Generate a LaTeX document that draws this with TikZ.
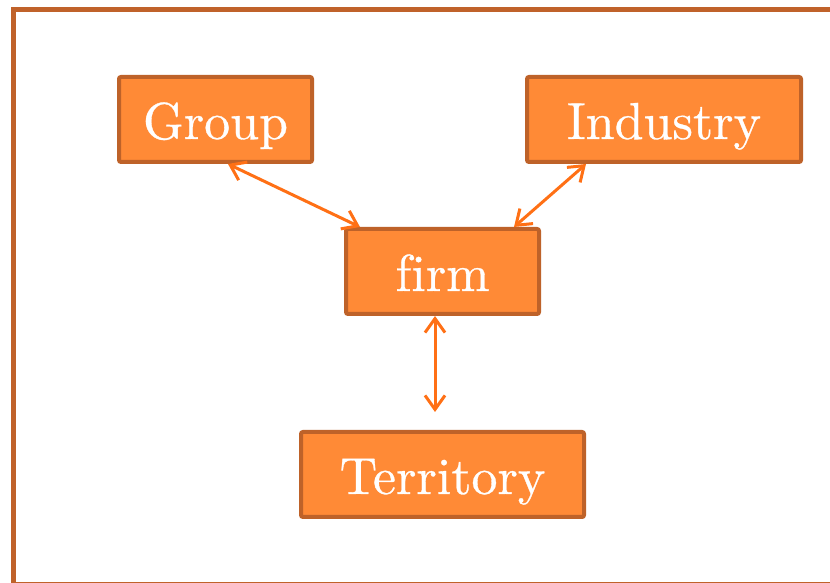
\documentclass[tikz,border=0pt]{standalone}
\usepackage{fontspec}
\newfontfamily\boxfont{lmroman10-regular.otf}[FakeBold=0.6]
\usetikzlibrary{arrows.meta,calc}
\definecolor{framec}{HTML}{C0622A}
\definecolor{boxline}{HTML}{BE6229}
\definecolor{boxfill}{HTML}{FF8A36}
\definecolor{arrowc}{HTML}{FF7015}
\begin{document}
\begin{tikzpicture}[x=1pt,y=1pt,
  box/.style={draw=boxline, fill=boxfill, line width=4pt, rounded corners=2pt,
    minimum height=85pt, text=white, font=\boxfont\fontsize{52}{60}\selectfont,
    text height=39pt, text depth=0pt, inner sep=0pt},
  link/.style={draw=arrowc, line width=3pt,
    {Straight Barb[length=14pt,width=20pt]}-{Straight Barb[length=14pt,width=20pt]}}]
\useasboundingbox (0,0) rectangle (830,583);
\clip (0,0) rectangle (830,583);
\fill[white] (0,0) rectangle (830,583);
\draw[framec, line width=4.8pt] (13.8,573.2) rectangle (840,-1.3);
\node[box, minimum width=193pt] (group) at (215.5,463.5) {Group};
\node[box, minimum width=274pt] (industry) at (664,463.5) {Industry};
\node[box, minimum width=193pt] (firm) at (442.5,311.5) {f\kern0pt irm};
\node[box, minimum width=283pt] (territory) at (442.5,108.5) {Territory};
\coordinate (vend) at ($(firm.south)+(-7.5,-96)$);
\draw[link] ($(group.south)+(12.5,0)$) -- ($(firm.north)+(-82.5,0)$);
\draw[link] ($(industry.south)+(-78,0)$) -- ($(firm.north)+(71.5,0)$);
\draw[link] ($(firm.south)+(-7.5,0)$) -- (vend);
\end{tikzpicture}
\end{document}
